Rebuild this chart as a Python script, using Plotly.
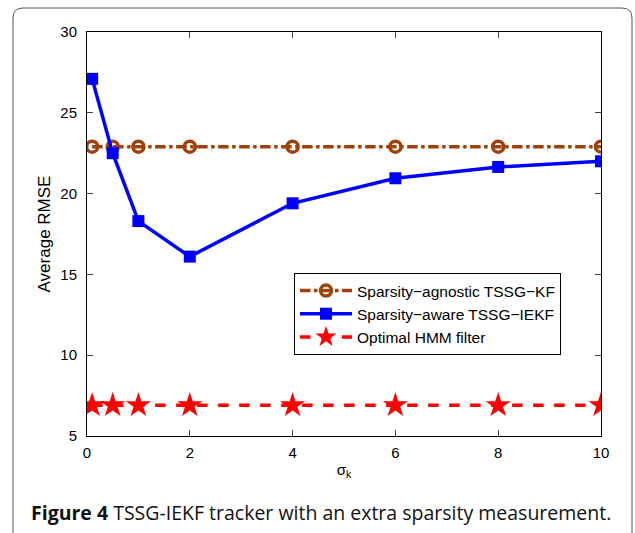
import plotly.graph_objects as go

sigma_k = [0.1, 0.5, 1, 2, 4, 6, 8, 10]
agnostic_kf = [22.9, 22.9, 22.9, 22.9, 22.9, 22.9, 22.9, 22.9]
aware_iekf = [27.1, 22.5, 18.3, 16.1, 19.4, 20.95, 21.65, 22.0]
optimal_hmm = [6.9, 6.9, 6.9, 6.9, 6.9, 6.9, 6.9, 6.9]

x_ticks = [0, 2, 4, 6, 8, 10]
y_ticks = [5, 10, 15, 20, 25, 30]

BROWN = "#A0400A"
fig = go.Figure()
fig.add_trace(go.Scatter(
    x=sigma_k, y=agnostic_kf, mode="lines+markers", name="Sparsity\u2212agnostic TSSG\u2212KF",
    line=dict(color=BROWN, width=3.5, dash="dashdot"),
    marker=dict(symbol="circle-open", size=11, color=BROWN, line=dict(width=3.5, color=BROWN))))
fig.add_trace(go.Scatter(
    x=sigma_k, y=aware_iekf, mode="lines+markers", name="Sparsity\u2212aware TSSG\u2212IEKF",
    line=dict(color="#0000FF", width=3.5),
    marker=dict(symbol="square", size=12, color="#0000FF")))
fig.add_trace(go.Scatter(
    x=sigma_k, y=optimal_hmm, mode="lines+markers", name="Optimal HMM filter",
    line=dict(color="#FF0000", width=3.5, dash="dash"),
    marker=dict(symbol="star", size=19, color="#FF0000", line=dict(width=0))))

L, R, T, B = 87, 601, 32, 436
W, H = 635, 533
pw, ph = R - L, B - T
def px(x): return (x - L) / pw
def py(y): return (B - y) / ph

x0, x1, yt, yb = px(13), px(632), py(8), py(560)
rx, ry = 10 / pw, 10 / ph
path = (f"M {x0},{yb} L {x0},{yt-ry} Q {x0},{yt} {x0+rx},{yt} "
        f"L {x1-rx},{yt} Q {x1},{yt} {x1},{yt-ry} L {x1},{yb}")

fig.update_layout(
    width=W, height=H,
    margin=dict(l=L, r=W - R, t=T, b=H - B),
    paper_bgcolor="white", plot_bgcolor="white",
    font=dict(family="Liberation Sans, Arial, sans-serif", size=14, color="black"),
    showlegend=True,
    legend=dict(x=px(294), y=py(273), xanchor="left", yanchor="top",
                bordercolor="black", borderwidth=1, bgcolor="white",
                font=dict(size=15.5), tracegroupgap=0, itemwidth=52),
    shapes=[dict(type="path", path=path, xref="paper", yref="paper",
                 line=dict(color="#555555", width=1))],
    annotations=[dict(
        text="<b>Figure 4</b> TSSG-IEKF tracker with an extra sparsity measurement.",
        x=px(321), y=py(512), xref="paper", yref="paper", showarrow=False,
        xanchor="center", yanchor="middle",
        font=dict(family="Open Sans, sans-serif", size=19.5, color="#111111"))],
)
fig.update_xaxes(range=[0, 10], tickvals=x_ticks, ticks="inside", ticklen=6,
                 tickfont=dict(size=15), ticklabelstandoff=3,
                 showline=True, linecolor="black", linewidth=1, mirror="ticks",
                 showgrid=False, zeroline=False,
                 title=dict(text="\u03c3<sub>k</sub>", standoff=4, font=dict(size=15)))
fig.update_yaxes(range=[5, 30], tickvals=y_ticks, ticks="inside", ticklen=6,
                 tickfont=dict(size=15), ticklabelstandoff=6,
                 showline=True, linecolor="black", linewidth=1, mirror="ticks",
                 showgrid=False, zeroline=False,
                 title=dict(text="Average RMSE", standoff=5))

fig.write_html("out.html", config={"displayModeBar": False},
               post_script="document.body.style.margin='0';")
